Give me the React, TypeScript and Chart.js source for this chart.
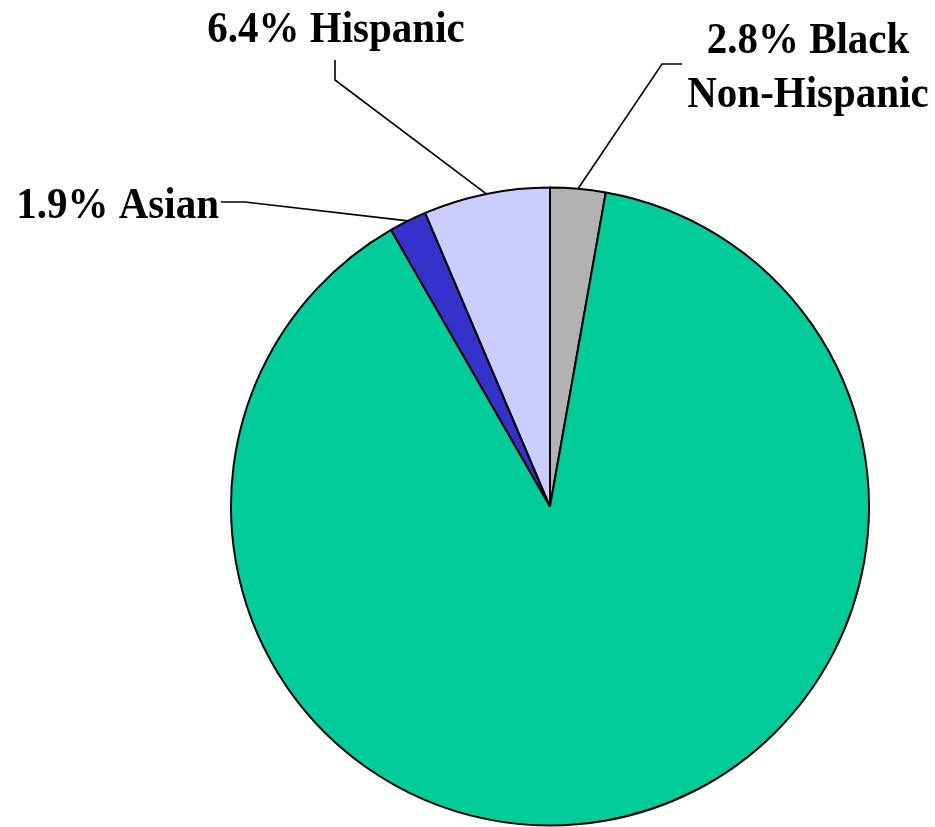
import React, { useEffect, useRef } from "react";
import { Chart, registerables } from "chart.js";

Chart.register(...registerables);

const categories = ["Black Non-Hispanic", "White Non-Hispanic", "Asian", "Hispanic"];
const shares = [2.8, 88.9, 1.9, 6.4];
const sliceColors = ["#B2B2B2", "#00CC99", "#3333CC", "#CCCCFF"];
const labelLines: (string[] | null)[] = [
  ["2.8% Black", "Non-Hispanic"],
  null,
  ["1.9% Asian"],
  ["6.4% Hispanic"],
];

const FONT = "bold 41px 'Liberation Serif', 'Times New Roman', serif";
const STRETCH_Y = 1.07;

// label layout: text anchor, alignment, and leader elbow points (pixels)
const labelLayout: Record<number, { x: number; y: number; align: CanvasTextAlign; lineGap: number; elbow: [number, number][] }> = {
  0: { x: 808, y: 53, align: "center", lineGap: 54, elbow: [[682, 64], [662, 64]] },
  2: { x: 219, y: 218, align: "right", lineGap: 0, elbow: [[221, 202], [245, 202]] },
  3: { x: 336, y: 42, align: "center", lineGap: 0, elbow: [[335, 60], [335, 80]] },
};

const labelPlugin = {
  id: "pieLabels",
  afterDatasetsDraw(chart: any) {
    const ctx = chart.ctx as CanvasRenderingContext2D;
    const meta = chart.getDatasetMeta(0);
    ctx.save();
    ctx.font = FONT;
    ctx.fillStyle = "#000";
    ctx.strokeStyle = "#000";
    ctx.lineWidth = 1.6;
    meta.data.forEach((arc: any, i: number) => {
      const lines = labelLines[i];
      const lay = labelLayout[i];
      if (!lines || !lay) return;
      const p = arc.getProps(["x", "y", "startAngle", "endAngle", "outerRadius"], true);
      const mid = (p.startAngle + p.endAngle) / 2;
      const ex = p.x + Math.cos(mid) * p.outerRadius;
      const ey = p.y + Math.sin(mid) * p.outerRadius;
      ctx.beginPath();
      ctx.moveTo(lay.elbow[0][0], lay.elbow[0][1]);
      for (let k = 1; k < lay.elbow.length; k++) ctx.lineTo(lay.elbow[k][0], lay.elbow[k][1]);
      ctx.lineTo(ex, ey);
      ctx.stroke();
      ctx.textAlign = lay.align;
      ctx.textBaseline = "alphabetic";
      lines.forEach((t, k) => {
        const by = lay.y + k * lay.lineGap;
        ctx.save();
        ctx.translate(lay.x, by);
        ctx.scale(1, STRETCH_Y);
        ctx.fillText(t, 0, 0);
        ctx.restore();
      });
    });
    ctx.restore();
  },
};

export default function App() {
  const ref = useRef<HTMLCanvasElement>(null);
  useEffect(() => {
    document.body.style.margin = "0";
    const chart = new Chart(ref.current!, {
      type: "pie",
      data: {
        labels: categories,
        datasets: [
          {
            data: shares,
            backgroundColor: sliceColors,
            borderColor: "#000",
            borderWidth: 2,
          },
        ],
      },
      options: {
        animation: false,
        responsive: false,
        radius: 319,
        layout: { padding: { left: 231, right: 66, top: 187, bottom: 1 } },
        plugins: { legend: { display: false }, tooltip: { enabled: false } },
      } as any,
      plugins: [labelPlugin],
    });
    return () => chart.destroy();
  }, []);
  return (
    <div style={{ width: 935, height: 827, background: "#fff" }}>
      <canvas ref={ref} width={935} height={827} style={{ display: "block" }} />
    </div>
  );
}
